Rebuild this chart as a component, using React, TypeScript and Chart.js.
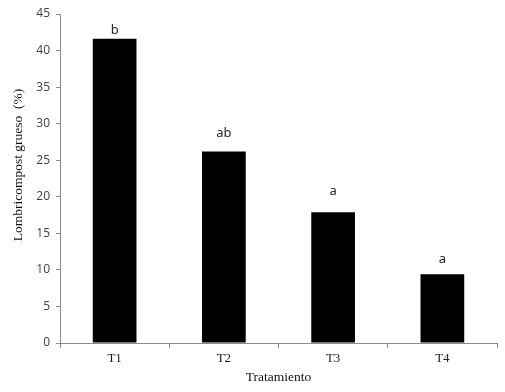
import React, { useEffect, useRef } from "react";
import { Chart, registerables } from "chart.js";

Chart.register(...registerables);

const categories = ["T1", "T2", "T3", "T4"];
const values = [41.6, 26.2, 17.9, 9.4];
const hiddenErrors = [0.1, 1.4, 1.8, 1.0];
const letters = ["b", "ab", "a", "a"];
const yTitle = "Lombricompost grueso  (%)";
const xTitle = "Tratamiento";

const lettersPlugin = {
  id: "letters",
  afterDatasetsDraw(chart: any) {
    const ctx = chart.ctx;
    const meta = chart.getDatasetMeta(0);
    const yScale = chart.scales.y;
    ctx.save();
    ctx.font = "13px 'Noto Sans'";
    ctx.fillStyle = "#262626";
    ctx.textAlign = "center";
    ctx.textBaseline = "alphabetic";
    meta.data.forEach((bar: any, i: number) => {
      const y = yScale.getPixelForValue(values[i] + hiddenErrors[i]) - 4;
      ctx.fillText(letters[i], bar.x, y);
    });
    ctx.restore();
  },
};

const yTitlePlugin = {
  id: "yTitle",
  afterDraw(chart: any) {
    const ctx = chart.ctx;
    ctx.save();
    ctx.translate(18, 165);
    ctx.rotate(-Math.PI / 2);
    ctx.font = "13.5px 'Liberation Serif'";
    ctx.fillStyle = "#111";
    ctx.textAlign = "center";
    ctx.textBaseline = "middle";
    ctx.fillText(yTitle, 0, 0);
    ctx.restore();
  },
};

export default function App() {
  const ref = useRef<HTMLCanvasElement>(null);
  useEffect(() => {
    if (!ref.current) return;
    const chart = new Chart(ref.current, {
      type: "bar",
      data: {
        labels: categories,
        datasets: [
          {
            data: values,
            backgroundColor: "#000000",
            borderColor: "#000000",
            borderWidth: 0,
            barPercentage: 0.4,
            categoryPercentage: 1.0,
          },
        ],
      },
      options: {
        responsive: false,
        animation: false,
        layout: { padding: { left: 0, right: 8, top: 14, bottom: 0 } },
        plugins: {
          legend: { display: false },
          tooltip: { enabled: false },
        },
        scales: {
          x: {
            afterFit: (s: any) => {
              s.height = 49;
            },
            grid: {
              display: true,
              offset: true,
              drawOnChartArea: false,
              drawTicks: true,
              tickLength: 5,
              color: "#8c8c8c",
            },
            border: { display: true, color: "#8c8c8c", width: 1 },
            ticks: {
              color: "#1a1a1a",
              font: { family: "'Liberation Serif'", size: 13 },
              padding: 3,
            },
            title: {
              display: true,
              text: xTitle,
              color: "#111",
              font: { family: "'Liberation Serif'", size: 13.5 },
              padding: { top: 0, bottom: 6 },
            },
          },
          y: {
            min: 0,
            max: 45,
            afterFit: (s: any) => {
              s.width = 60;
            },
            grid: {
              display: true,
              drawOnChartArea: false,
              drawTicks: true,
              tickLength: 4,
              color: "#8c8c8c",
            },
            border: { display: true, color: "#8c8c8c", width: 1 },
            ticks: {
              stepSize: 5,
              color: "#404040",
              font: { family: "'Open Sans'", size: 12 },
              padding: 6,
            },
          },
        },
      },
      plugins: [lettersPlugin, yTitlePlugin],
    });
    return () => chart.destroy();
  }, []);
  return (
    <div style={{ position: "absolute", left: 0, top: 0, width: 505, height: 392, background: "#fff" }}>
      <canvas ref={ref} width={505} height={392} />
    </div>
  );
}
